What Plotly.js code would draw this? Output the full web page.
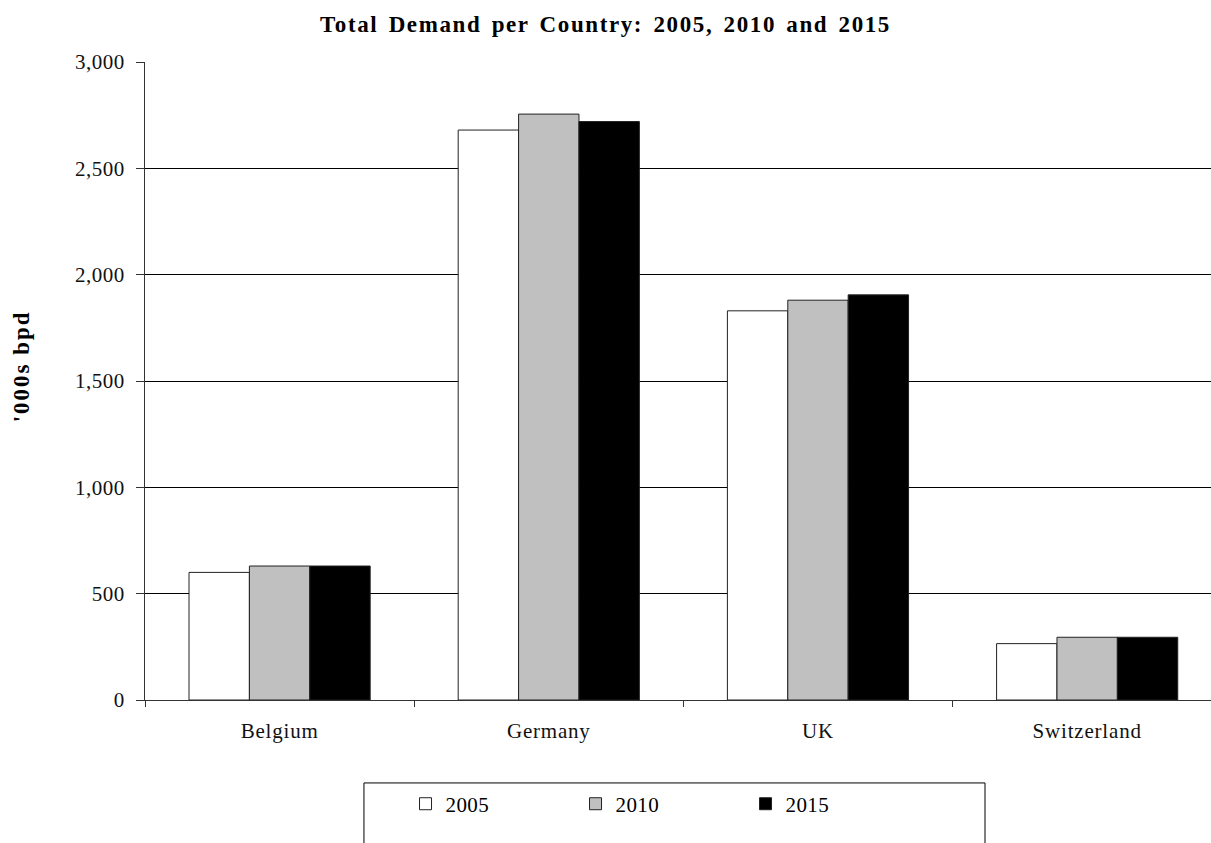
<!DOCTYPE html>
<html>
<head>
<meta charset="utf-8">
<script src="https://cdn.plot.ly/plotly-3.0.1.min.js"></script>
<style>
html,body{margin:0;padding:0;background:#fff;}
#chart{width:1211px;height:843px;}
#chart .gtitle{letter-spacing:1.6px;word-spacing:3px;}
#chart .xtick text{letter-spacing:0.8px;}
#chart .ytick text{letter-spacing:0.5px;}
#chart .annotation-text{letter-spacing:2px;}
#chart .legendtext{letter-spacing:0.4px;}
</style>
</head>
<body>
<div id="chart"></div>
<script>
const countries = ["Belgium", "Germany", "UK", "Switzerland"];
const years = ["2005", "2010", "2015"];
const demand2005 = [600, 2680, 1830, 265];
const demand2010 = [630, 2755, 1880, 295];
const demand2015 = [630, 2720, 1905, 295];
const yTicks = [0, 500, 1000, 1500, 2000, 2500, 3000];

const fills = ["#ffffff", "#c0c0c0", "#000000"];
const series = [demand2005, demand2010, demand2015];

const traces = series.map((vals, i) => ({
  type: "bar",
  name: years[i],
  x: countries,
  y: vals,
  marker: {color: fills[i], line: {color: "#222", width: 1}},
  hoverinfo: "x+y+name"
}));

const serif = "'Liberation Serif', 'Times New Roman', serif";

const layout = {
  width: 1211, height: 843,
  margin: {l: 145, r: 0, t: 62, b: 143},
  paper_bgcolor: "#fff", plot_bgcolor: "#fff",
  barmode: "group", bargap: 0.327, bargroupgap: 0,
  font: {family: serif, color: "#000", size: 21},
  title: {text: "<b>Total Demand per Country: 2005, 2010 and 2015</b>", x: 0.5, xref: "container", xanchor: "center", y: 0.972, yanchor: "middle", font: {family: serif, size: 23, color: "#000"}},
  xaxis: {
    type: "category", range: [-0.5, 3.46],
    showline: true, linecolor: "#333", linewidth: 1,
    ticks: "outside", tickson: "boundaries", ticklen: 6, tickcolor: "#333",
    ticklabelstandoff: 12,
    showgrid: false, tickfont: {family: serif, size: 21, color: "#111"}, fixedrange: true
  },
  yaxis: {
    range: [0, 3000], tickvals: yTicks, tickformat: ",d",
    showline: true, linecolor: "#333", linewidth: 1,
    ticks: "outside", ticklen: 8, tickcolor: "#333",
    ticklabelstandoff: 7,
    showgrid: true, gridcolor: "#000", gridwidth: 1,
    zeroline: false,
    tickfont: {family: serif, size: 21, color: "#111"},
    fixedrange: true
  },
  annotations: [{
    text: "<b>'000s bpd</b>", xref: "paper", yref: "paper",
    x: -0.116, y: 0.5235, xanchor: "center", yanchor: "middle",
    textangle: -90, showarrow: false,
    font: {family: serif, size: 23, color: "#000"}
  }],
  showlegend: true,
  legend: {
    orientation: "h", x: 0.2444, xanchor: "left", y: -0.131, yanchor: "top",
    font: {family: serif, size: 21, color: "#000"},
    bgcolor: "rgba(0,0,0,0)", borderwidth: 0,
    entrywidth: 125, traceorder: "normal"
  },
  shapes: [{
    type: "rect", xref: "paper", yref: "paper",
    x0: 0.2054, x1: 0.788, y0: -0.130, y1: -0.4,
    line: {color: "#000", width: 1}, fillcolor: "rgba(0,0,0,0)", layer: "below"
  }]
};

Plotly.newPlot("chart", traces, layout, {displayModeBar: false, staticPlot: true});
</script>
</body>
</html>
